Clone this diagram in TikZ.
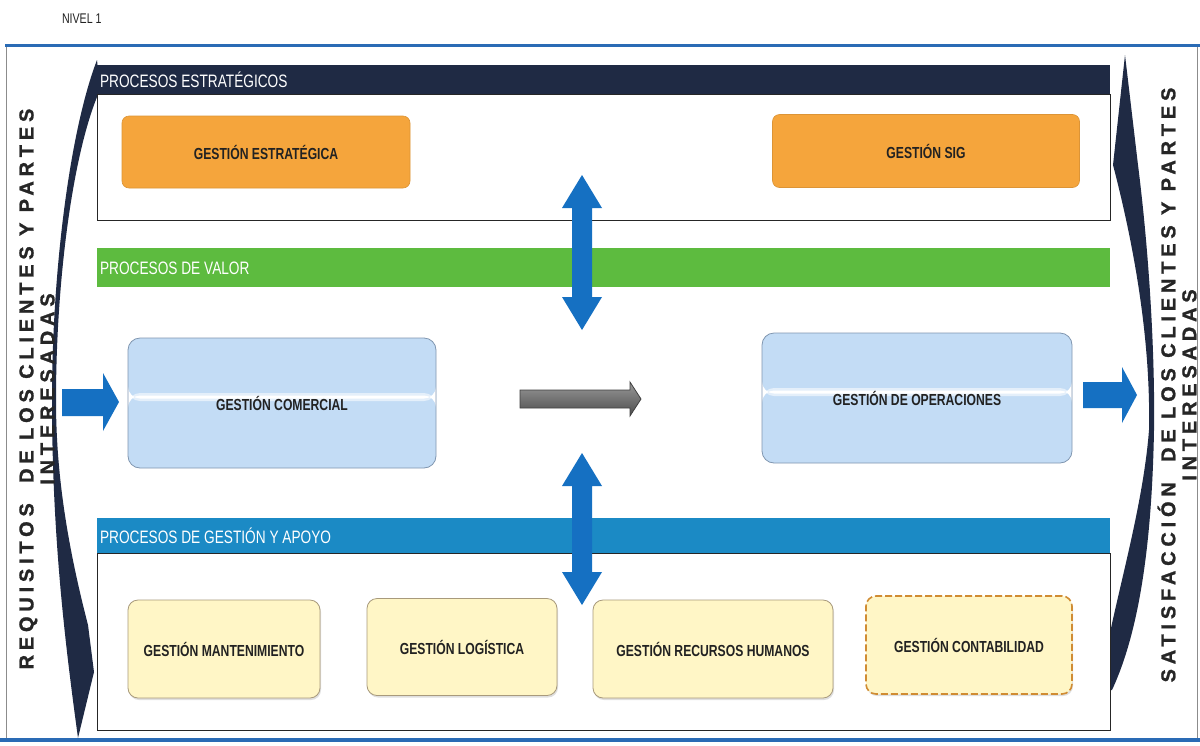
\documentclass[tikz,border=0pt]{standalone}
\usepackage{fontspec}
\setmainfont{Liberation Sans}
\newfontfamily\cond[FakeStretch=0.76]{Liberation Sans}
\newfontfamily\sidef[LetterSpace=24,FakeBold=1.2]{Liberation Sans}
\usetikzlibrary{shadows}
\definecolor{navy}{HTML}{1F2A44}
\definecolor{valgreen}{HTML}{5DBB3F}
\definecolor{supblue}{HTML}{1B8AC5}
\definecolor{orng}{HTML}{F5A53C}
\definecolor{lblue}{HTML}{C3DCF5}
\definecolor{lbord}{HTML}{8096B0}
\definecolor{ylw}{HTML}{FFF6C6}
\definecolor{yborder}{HTML}{A89A7C}
\definecolor{arrblue}{HTML}{1570C2}
\definecolor{frameblue}{HTML}{2A6BB5}
\definecolor{txt}{HTML}{222222}
\newcommand\vdarrow[3]{%
\fill[arrblue] (#1,#2) -- (#1+20,#2+33) -- (#1+10,#2+33) -- (#1+10,#3-33) -- (#1+20,#3-33) -- (#1,#3) -- (#1-20,#3-33) -- (#1-10,#3-33) -- (#1-10,#2+33) -- (#1-20,#2+33) -- cycle;}
\begin{document}
\begin{tikzpicture}[x=1pt,y=-1pt,
  every node/.style={inner sep=0pt,outer sep=0pt},
  boxlabel/.style={font=\cond\bfseries\fontsize{16}{18}\selectfont,text=txt},
  hdrtext/.style={font=\cond\fontsize{18}{20}\selectfont,text=white,anchor=west},
  bar/.style={rectangle,minimum width=1013pt,anchor=north west},
  body/.style={rectangle,draw=black!85,line width=1pt,fill=white,minimum width=1013pt,anchor=north west},
  obox/.style={boxlabel,rectangle,rounded corners=7pt,fill=orng,draw=orng!90!black,line width=0.6pt},
  bbox/.style={boxlabel,rectangle,rounded corners=12pt,fill=lblue,draw=lbord,line width=0.8pt,
    minimum height=130pt,
    path picture={\fill[white!55!lblue]
      ([yshift=10pt]path picture bounding box.west) rectangle ([yshift=2pt]path picture bounding box.east);
      \fill[white]
      ([yshift=7.5pt]path picture bounding box.west) rectangle ([yshift=4.5pt]path picture bounding box.east);}},
  ybox/.style={boxlabel,rectangle,rounded corners=10pt,fill=ylw,draw=yborder,line width=0.8pt,
    drop shadow={opacity=0.25,shadow xshift=1pt,shadow yshift=-2pt}},
  sidetext/.style={font=\sidef\bfseries\fontsize{20}{21}\selectfont,text=black!85,rotate=90,align=center},
  crescent/.style={fill=navy}
]
\useasboundingbox (0,0) rectangle (1200,745);
\fill[white] (0,0) rectangle (1200,745);

% title
\node[font=\cond\fontsize{14}{16}\selectfont,text=txt,anchor=west] (nivel) at (62,19) {NIVEL 1};

% outer frame
\draw[black!45,line width=1pt] (6,45) -- (6,740);
\draw[black!45,line width=1pt] (1197,45) -- (1197,740);
\draw[frameblue,line width=3pt] (5,45) -- (1200,45);
\draw[frameblue,line width=4pt] (0,740) -- (1200,740);

% crescent arrows (behind the boxes)
\fill[crescent] (97,60)
  .. controls (70,130) and (52,270) .. (52,400)
  .. controls (52,540) and (66,650) .. (78,738)
  -- (94,672) -- (88,625)
  .. controls (66,540) and (56,470) .. (56,400)
  .. controls (56,280) and (73,150) .. (100,90) -- cycle;
\fill[crescent] (1125,55) -- (1138,165)
  .. controls (1150,260) and (1155,360) .. (1154,430)
  .. controls (1152,540) and (1140,630) .. (1112,690)
  -- (1100,690)
  .. controls (1108,620) and (1142,520) .. (1149,430)
  .. controls (1151,330) and (1130,230) .. (1113,165) -- cycle;

% strategic processes
\node[body,minimum height=126pt] (estb) at (97,94) {};
\node[bar,fill=navy,minimum height=29pt] (esth) at (97,65) {};
\node[hdrtext] (estt) at (100,80) {PROCESOS ESTRATÉGICOS};
\node[obox,minimum width=288pt,minimum height=72pt] (ge) at (266,152) {GESTIÓN ESTRATÉGICA};
\node[obox,minimum width=307pt,minimum height=73pt] (gsig) at (926,151) {GESTIÓN SIG};

% value processes
\node[bar,fill=valgreen,minimum height=39pt] (valh) at (97,248) {};
\node[hdrtext] (valt) at (100,268) {PROCESOS DE VALOR};
\node[bbox,minimum width=308pt] (gc) at (282,403) {GESTIÓN COMERCIAL};
\node[bbox,minimum width=310pt] (go) at (917,398) {GESTIÓN DE OPERACIONES};

% support processes
\node[body,minimum height=177pt] (supb) at (97,553) {};
\node[bar,fill=supblue,minimum height=35pt] (suph) at (97,518) {};
\node[hdrtext] (supt) at (100,536) {PROCESOS DE GESTIÓN Y APOYO};
\node[ybox,minimum width=192pt,minimum height=98pt] (gm) at (224,649) {GESTIÓN MANTENIMIENTO};
\node[ybox,minimum width=190pt,minimum height=97pt] (gl) at (462,647) {GESTIÓN LOGÍSTICA};
\node[ybox,minimum width=240pt,minimum height=98pt] (gr) at (713,649) {GESTIÓN RECURSOS HUMANOS};
\node[ybox,minimum width=206pt,minimum height=98pt,draw=orng!85!black,dashed,dash pattern=on 7pt off 3pt,line width=1.6pt] (gco) at (969,645) {GESTIÓN CONTABILIDAD};

% block arrows
\vdarrow{582}{175}{330}
\vdarrow{582}{453}{605}
\fill[arrblue] (62,389) -- (103,389) -- (103,373) -- (119,402) -- (103,431) -- (103,416) -- (62,416) -- cycle;
\fill[arrblue] (1083,382) -- (1122,382) -- (1122,367) -- (1137,395) -- (1122,423) -- (1122,408) -- (1083,408) -- cycle;
\shade[top color=black!40,bottom color=black!70,draw=black!75,line width=0.8pt]
  (520,390) -- (630,390) -- (630,382) -- (641,399) -- (630,416) -- (630,408) -- (520,408) -- cycle;

% side texts
\node[sidetext] (req) at (37,389) {REQUISITOS\hspace{0.5em} DE LOS CLIENTES Y PARTES\\INTERESADAS};
\node[sidetext] (sat) at (1177,385) {SATISFACCIÓN\hspace{0.5em} DE LOS CLIENTES Y PARTES\\INTERESADAS};
\end{tikzpicture}
\end{document}
